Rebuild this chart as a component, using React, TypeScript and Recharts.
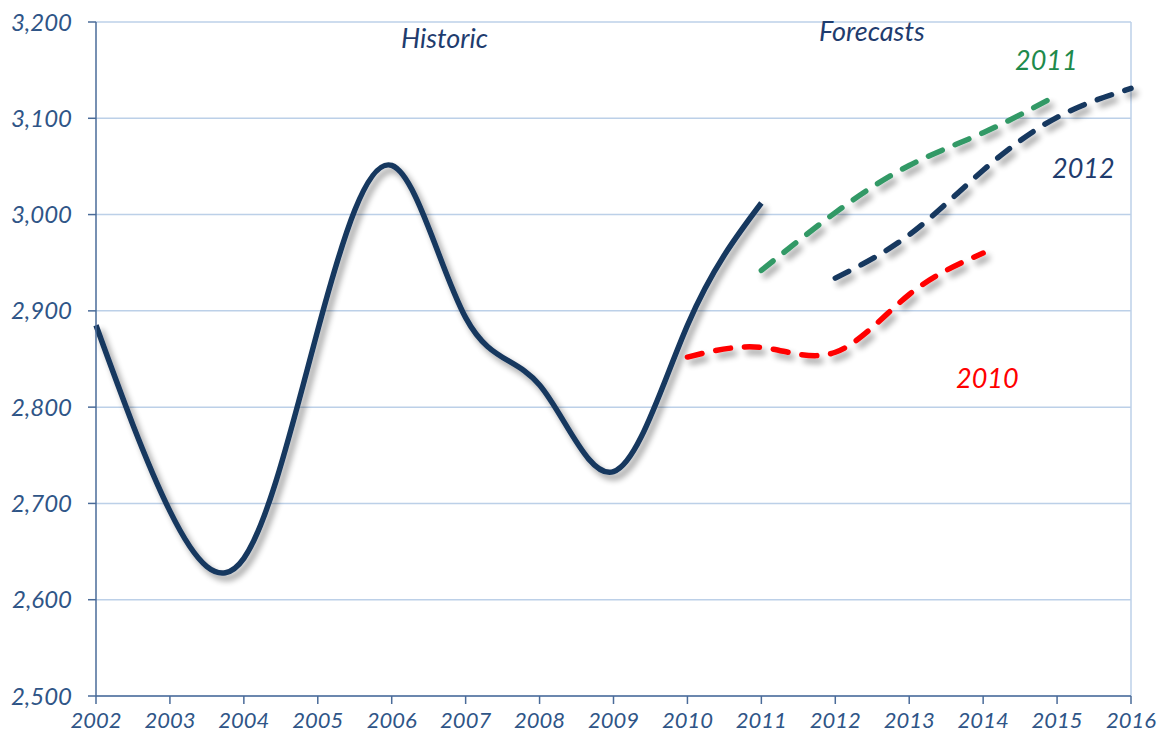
import { LineChart, Line, XAxis, YAxis, CartesianGrid, ReferenceLine } from "recharts";

const years = [2002, 2003, 2004, 2005, 2006, 2007, 2008, 2009, 2010, 2011, 2012, 2013, 2014, 2015, 2016];
const historic = [2885, 2692, 2643, 2880, 3051, 2893, 2823, 2733, 2885, 3012];
const forecast2010 = [2852, 2862, 2857, 2917, 2960];
const forecast2011 = [2942, 3002, 3051, 3085, 3124];
const forecast2012 = [2934, 2979, 3046, 3101, 3131];
const yTicks = [2500, 2600, 2700, 2800, 2900, 3000, 3100, 3200];

// each forecast begins at a given year
const pick = (arr: number[], start: number, y: number) => {
  const i = y - start;
  return i >= 0 && i < arr.length ? arr[i] : null;
};

const data = years.map((y) => ({
  year: y,
  historic: pick(historic, 2002, y),
  f2010: pick(forecast2010, 2010, y),
  f2011: pick(forecast2011, 2011, y),
  f2012: pick(forecast2012, 2012, y),
}));

const FONT = "Lato, 'Open Sans', sans-serif";
const xTickStyle = { fontFamily: FONT, fontStyle: "italic", fontSize: 22, fill: "#2F5587" };
const yTickStyle = { fontFamily: FONT, fontStyle: "italic", fontSize: 24, fill: "#2F5587" };
const axisColor = "#4A6B99";

const note = (text: string, left: number, top: number, color: string) => (
  <div
    style={{
      position: "absolute",
      left,
      top,
      fontFamily: FONT,
      fontStyle: "italic",
      fontSize: 27,
      lineHeight: "32px",
      color,
      whiteSpace: "nowrap",
    }}
  >
    {text}
  </div>
);

const dashed = { strokeWidth: 5.5, strokeDasharray: "15 14", strokeLinecap: "round" as const };

export default function App() {
  return (
    <div style={{ position: "absolute", left: 0, top: 0, width: 1164, height: 745, background: "#fff" }}>
      <svg width="0" height="0" style={{ position: "absolute" }}>
        <defs>
          <filter id="shadow" x="-10%" y="-10%" width="120%" height="130%">
            <feGaussianBlur in="SourceAlpha" stdDeviation="3" />
            <feOffset dx="4" dy="5" result="blur" />
            <feComponentTransfer>
              <feFuncA type="linear" slope="0.4" />
            </feComponentTransfer>
            <feMerge>
              <feMergeNode />
              <feMergeNode in="SourceGraphic" />
            </feMerge>
          </filter>
        </defs>
      </svg>
      <LineChart width={1164} height={745} data={data} margin={{ top: 22, right: 33, bottom: 0, left: 0 }}>
        <CartesianGrid vertical={false} stroke="#BCD0E8" strokeWidth={1.5} />
        <ReferenceLine x={2016} stroke="#BCD0E8" strokeWidth={1.5} />
        <XAxis
          dataKey="year"
          type="number"
          domain={[2002, 2016]}
          ticks={years}
          interval={0}
          height={49}
          tickSize={8}
          tickMargin={8}
          tick={xTickStyle}
          stroke={axisColor}
          strokeWidth={1.5}
          allowDecimals={false}
        />
        <YAxis
          type="number"
          domain={[2500, 3200]}
          ticks={yTicks}
          width={96}
          tickSize={8}
          tickMargin={16}
          tick={yTickStyle}
          tickFormatter={(v: number) => v.toLocaleString("en-US")}
          stroke={axisColor}
          strokeWidth={1.5}
        />
        <Line
          dataKey="historic"
          type="natural"
          stroke="#17375E"
          strokeWidth={5.5}
          dot={false}
          filter="url(#shadow)"
          isAnimationActive={false}
        />
        <Line dataKey="f2010" type="natural" stroke="#FF0000" {...dashed} dot={false} filter="url(#shadow)" isAnimationActive={false} />
        <Line dataKey="f2011" type="natural" stroke="#339966" {...dashed} dot={false} filter="url(#shadow)" isAnimationActive={false} />
        <Line dataKey="f2012" type="natural" stroke="#17375E" {...dashed} dot={false} filter="url(#shadow)" isAnimationActive={false} />
      </LineChart>
      {note("Historic", 401, 22, "#1F3C6E")}
      {note("Forecasts", 819, 15, "#1F3C6E")}
      {note("2011", 1015, 44, "#1E8A4C")}
      {note("2012", 1052, 152, "#1F3C6E")}
      {note("2010", 956, 362, "#FF0000")}
    </div>
  );
}
